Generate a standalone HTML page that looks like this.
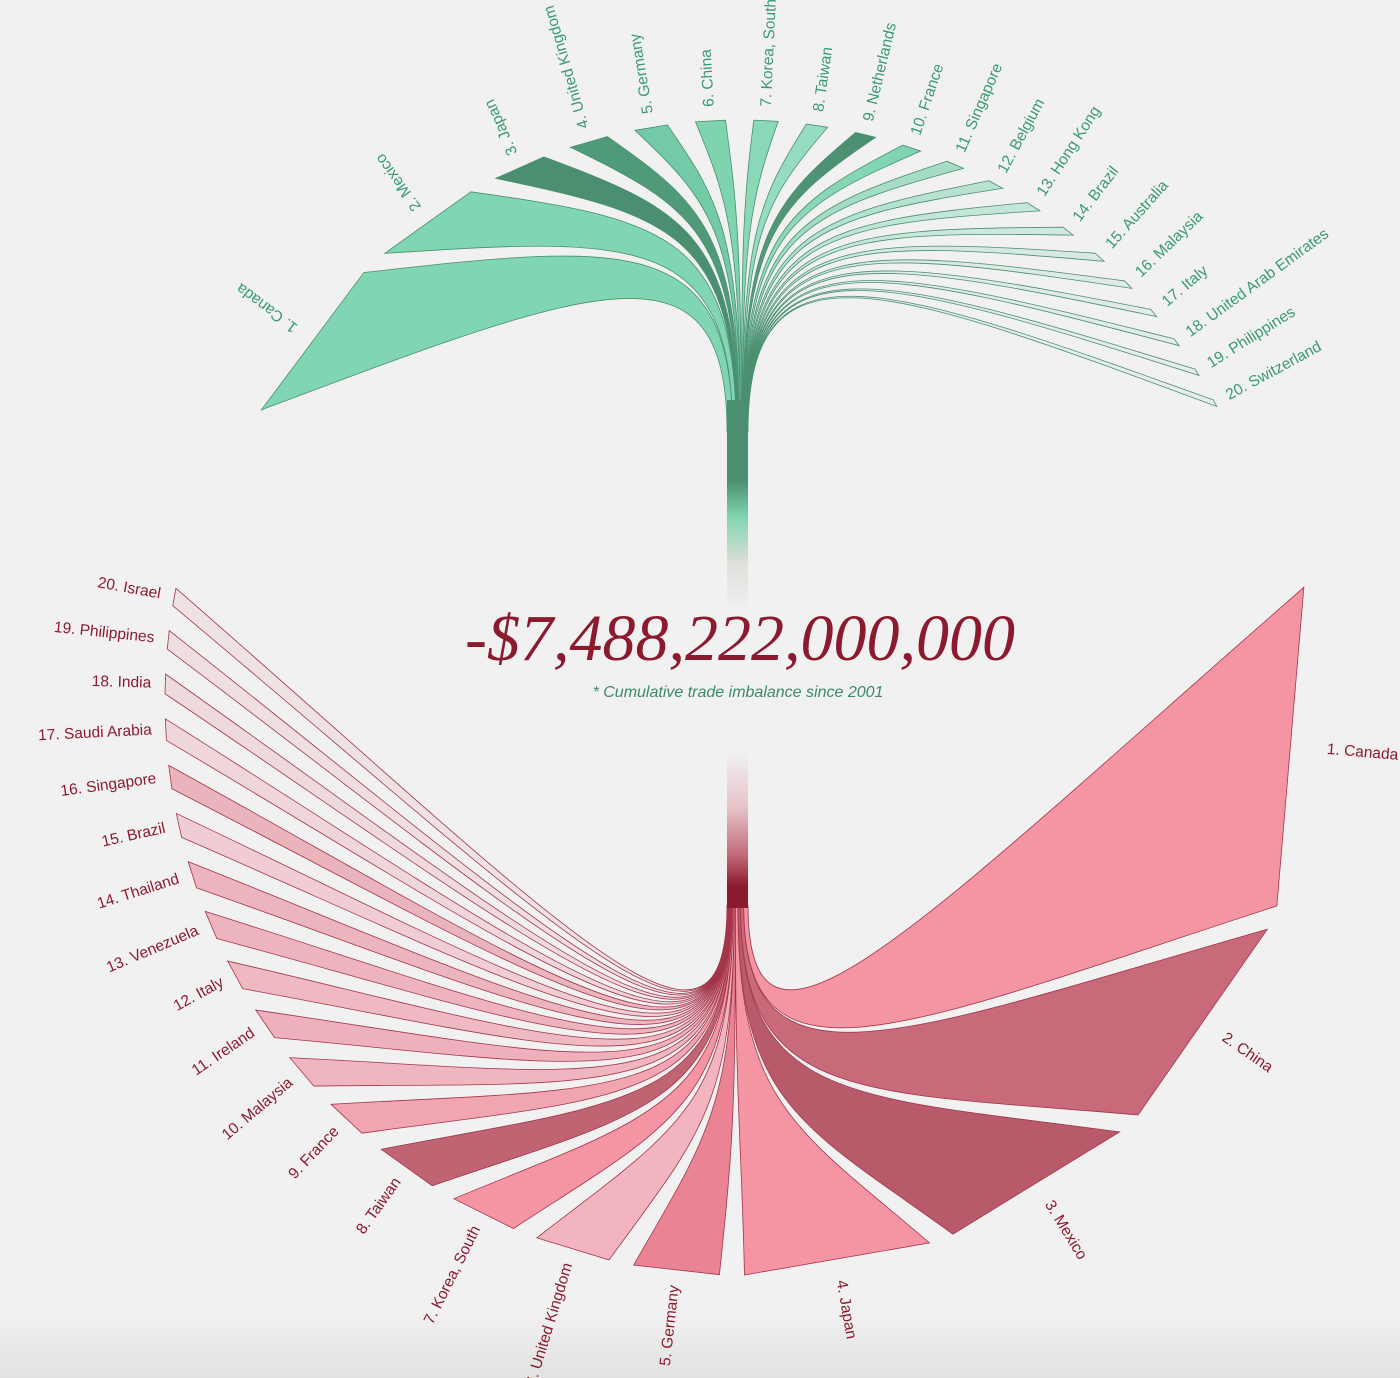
<!DOCTYPE html>
<html><head><meta charset="utf-8">
<style>
html,body{margin:0;padding:0;background:#f1f1f1;}
svg{display:block;}
.lt{font-family:"Liberation Sans",sans-serif;font-size:15.5px;}
</style></head>
<body>
<svg id="chart" width="1400" height="1378" viewBox="0 0 1400 1378" xmlns="http://www.w3.org/2000/svg">
<defs>
<linearGradient id="stemTopG" x1="0" y1="400" x2="0" y2="612" gradientUnits="userSpaceOnUse">
<stop offset="0" stop-color="#4a8f70"/><stop offset="0.38" stop-color="#4a8f70"/>
<stop offset="0.55" stop-color="#7fd4b0"/><stop offset="0.78" stop-color="#e2e0dc"/>
<stop offset="1" stop-color="#f1f1f1"/></linearGradient>
<linearGradient id="stemBotG" x1="0" y1="752" x2="0" y2="910" gradientUnits="userSpaceOnUse">
<stop offset="0" stop-color="#f1f1f1"/><stop offset="0.35" stop-color="#e6c4ca"/>
<stop offset="0.65" stop-color="#c46a7a"/><stop offset="0.85" stop-color="#8b1a2e"/>
<stop offset="1" stop-color="#8b1a2e"/></linearGradient>
<linearGradient id="bgBot" x1="0" y1="1310" x2="0" y2="1378" gradientUnits="userSpaceOnUse">
<stop offset="0" stop-color="#f1f1f1"/><stop offset="1" stop-color="#e2e2e2"/></linearGradient>
</defs>
<rect x="0" y="1310" width="1400" height="68" fill="url(#bgBot)"/>
<g id="top"></g>
<g id="bot"></g>
<rect x="727" y="400" width="21" height="212" fill="url(#stemTopG)"/>
<rect x="727" y="752" width="21" height="156" fill="url(#stemBotG)"/>
<text x="740" y="660" text-anchor="middle" font-family="'Liberation Serif',serif" font-style="italic" font-size="66" fill="#8b1a2e">-$7,488,222,000,000</text>
<text x="738" y="697" text-anchor="middle" font-family="'Liberation Sans',sans-serif" font-style="italic" font-size="16" fill="#3a8a68">* Cumulative trade imbalance since 2001</text>
</svg>
<script>
const exportCountries = ["Canada","Mexico","Japan","United Kingdom","Germany","China","Korea, South","Taiwan","Netherlands","France","Singapore","Belgium","Hong Kong","Brazil","Australia","Malaysia","Italy","United Arab Emirates","Philippines","Switzerland"];
const exportValues = [1830,1130,560,410,350,320,260,230,220,200,190,170,160,140,130,110,100,90,80,80];
const importCountries = ["Canada","China","Mexico","Japan","Germany","United Kingdom","Korea, South","Taiwan","France","Malaysia","Ireland","Italy","Venezuela","Thailand","Brazil","Singapore","Saudi Arabia","India","Philippines","Israel"];
const importValues = [3300,2320,2000,1920,880,770,680,640,430,380,340,320,300,280,250,240,220,200,190,180];

const NS = "http://www.w3.org/2000/svg";
const defs = document.querySelector("defs");
const topColors = ['#80d5b3','#80d5b3','#4a8f70','#4f9a78','#72caa6','#7fd4b0','#8ad8b8','#96dcc0','#5aa583','#a2e0c8','#9adcc2','#a8e2cc','#b2e4d0','#bce6d6','#c6e8da','#d0eadf','#d6ebe2','#dcece5','#e0ece7','#e4ede9'];
const topEnd = ['#80d5b3','#80d5b3','#4a8f70','#4f9a78','#72caa6','#7fd4b0','#8ad8b8','#96dcc0','#4a8f70','#7fd4b0','#a6dcc6','#b8e2d2','#c6e6da','#d2e8df','#dae9e3','#e0eae6','#e4ebe8','#e6ebe9','#e8ecea','#e8ecea'];
const botColors = ['#f595a3','#c86a7a','#b95a6b','#f595a3','#ea8494','#f2b5bf','#f595a3','#c06474','#f0a5b0','#f0b6bf','#eeb0ba','#efb9c1','#eeb4bd','#ecb4bd','#f0cdd2','#eab4bd','#efd6da','#eedadd','#efdfe1','#efe2e4'];

function ang(x){return x*Math.PI/180;}
function mix(a,b,t){return a+(b-a)*t;}

function drawFan(gid, names, vals, cx, cy, R, a0, a1, stemY, dir, hub, fills, ends, stroke, labelColor, prefix){
  const g = document.getElementById(gid);
  const n = vals.length;
  const total = vals.reduce((s,v)=>s+v,0);
  const span = a1 - a0;
  const gapDeg = dir<0 ? 3.0 : 2.5;
  const k = (span - gapDeg*(n-1))/total;
  const stemW = 21, sx0 = 727;
  let a = a0;
  let stemAcc = 0;
  for(let i=0;i<n;i++){
    const w = vals[i]*k;
    const t1 = a, t2 = a + w;
    const sw = vals[i]/total*stemW;
    let sa, sb;
    if(dir<0){ sa = sx0 + stemAcc; sb = sa + sw; }
    else { sb = sx0 + stemW - stemAcc; sa = sb - sw; }
    stemAcc += sw;
    const P1 = [cx+R*Math.cos(ang(t1)), cy+R*Math.sin(ang(t1))];
    const P2 = [cx+R*Math.cos(ang(t2)), cy+R*Math.sin(ang(t2))];
    const H = 200;
    let e1x, e2x;
    if(dir<0){ e1x = sa; e2x = sb; } else { e1x = sb; e2x = sa; }
    const c1a = [e1x, stemY + dir*H], c1b = [e2x, stemY + dir*H];
    const f = 0.7;
    const c2a = [mix(P1[0],hub[0],f), mix(P1[1],hub[1],f)];
    const c2b = [mix(P2[0],hub[0],f), mix(P2[1],hub[1],f)];
    const d = `M${e1x},${stemY} C${c1a[0]},${c1a[1]} ${c2a[0]},${c2a[1]} ${P1[0]},${P1[1]} L${P2[0]},${P2[1]} C${c2b[0]},${c2b[1]} ${c1b[0]},${c1b[1]} ${e2x},${stemY} Z`;
    const gr = document.createElementNS(NS,'linearGradient');
    gr.setAttribute('id', gid+'g'+i);
    gr.setAttribute('gradientUnits','userSpaceOnUse');
    gr.setAttribute('x1',740); gr.setAttribute('y1',stemY);
    gr.setAttribute('x2',(P1[0]+P2[0])/2); gr.setAttribute('y2',(P1[1]+P2[1])/2);
    const s1 = document.createElementNS(NS,'stop'); s1.setAttribute('offset','0'); s1.setAttribute('stop-color',fills[i]);
    const s2 = document.createElementNS(NS,'stop'); s2.setAttribute('offset','1'); s2.setAttribute('stop-color',ends[i]);
    gr.appendChild(s1); gr.appendChild(s2); defs.appendChild(gr);
    const p = document.createElementNS(NS,'path');
    p.setAttribute('d', d);
    p.setAttribute('fill', `url(#${gid}g${i})`);
    p.setAttribute('stroke', stroke);
    p.setAttribute('stroke-width', '0.8');
    
    
    g.appendChild(p);
    const tm = (t1+t2)/2;
    const lr = R + 14;
    const lx = cx+lr*Math.cos(ang(tm)), ly = cy+lr*Math.sin(ang(tm));
    const tx = document.createElementNS(NS,'text');
    let rot = tm, anchor = 'start';
    if(dir>0 && (tm>90 || tm<-90)){ rot = tm-180; anchor='end'; }
    tx.setAttribute('x', lx); tx.setAttribute('y', ly);
    tx.setAttribute('transform', `rotate(${rot} ${lx} ${ly})`);
    tx.setAttribute('text-anchor', anchor);
    tx.setAttribute('dominant-baseline','middle');
    tx.setAttribute('class','lt');
    tx.setAttribute('fill', labelColor);
    tx.textContent = (i+1)+'. '+names[i];
    
    
    g.appendChild(tx);
    a = t2 + gapDeg;
  }
}
drawFan('top', exportCountries, exportValues, 740, 660, 540, -152.4, -28, 432, -1, [740,230], topColors, topEnd, '#4a8f70', '#3a9a70', 'export');
drawFan('bot', importCountries, importValues, 740, 700, 575, -11.3, 191.2, 905, 1, [740,1080], botColors, botColors, '#a3354a', '#8b1a2e', 'import');
</script>
</body></html>
